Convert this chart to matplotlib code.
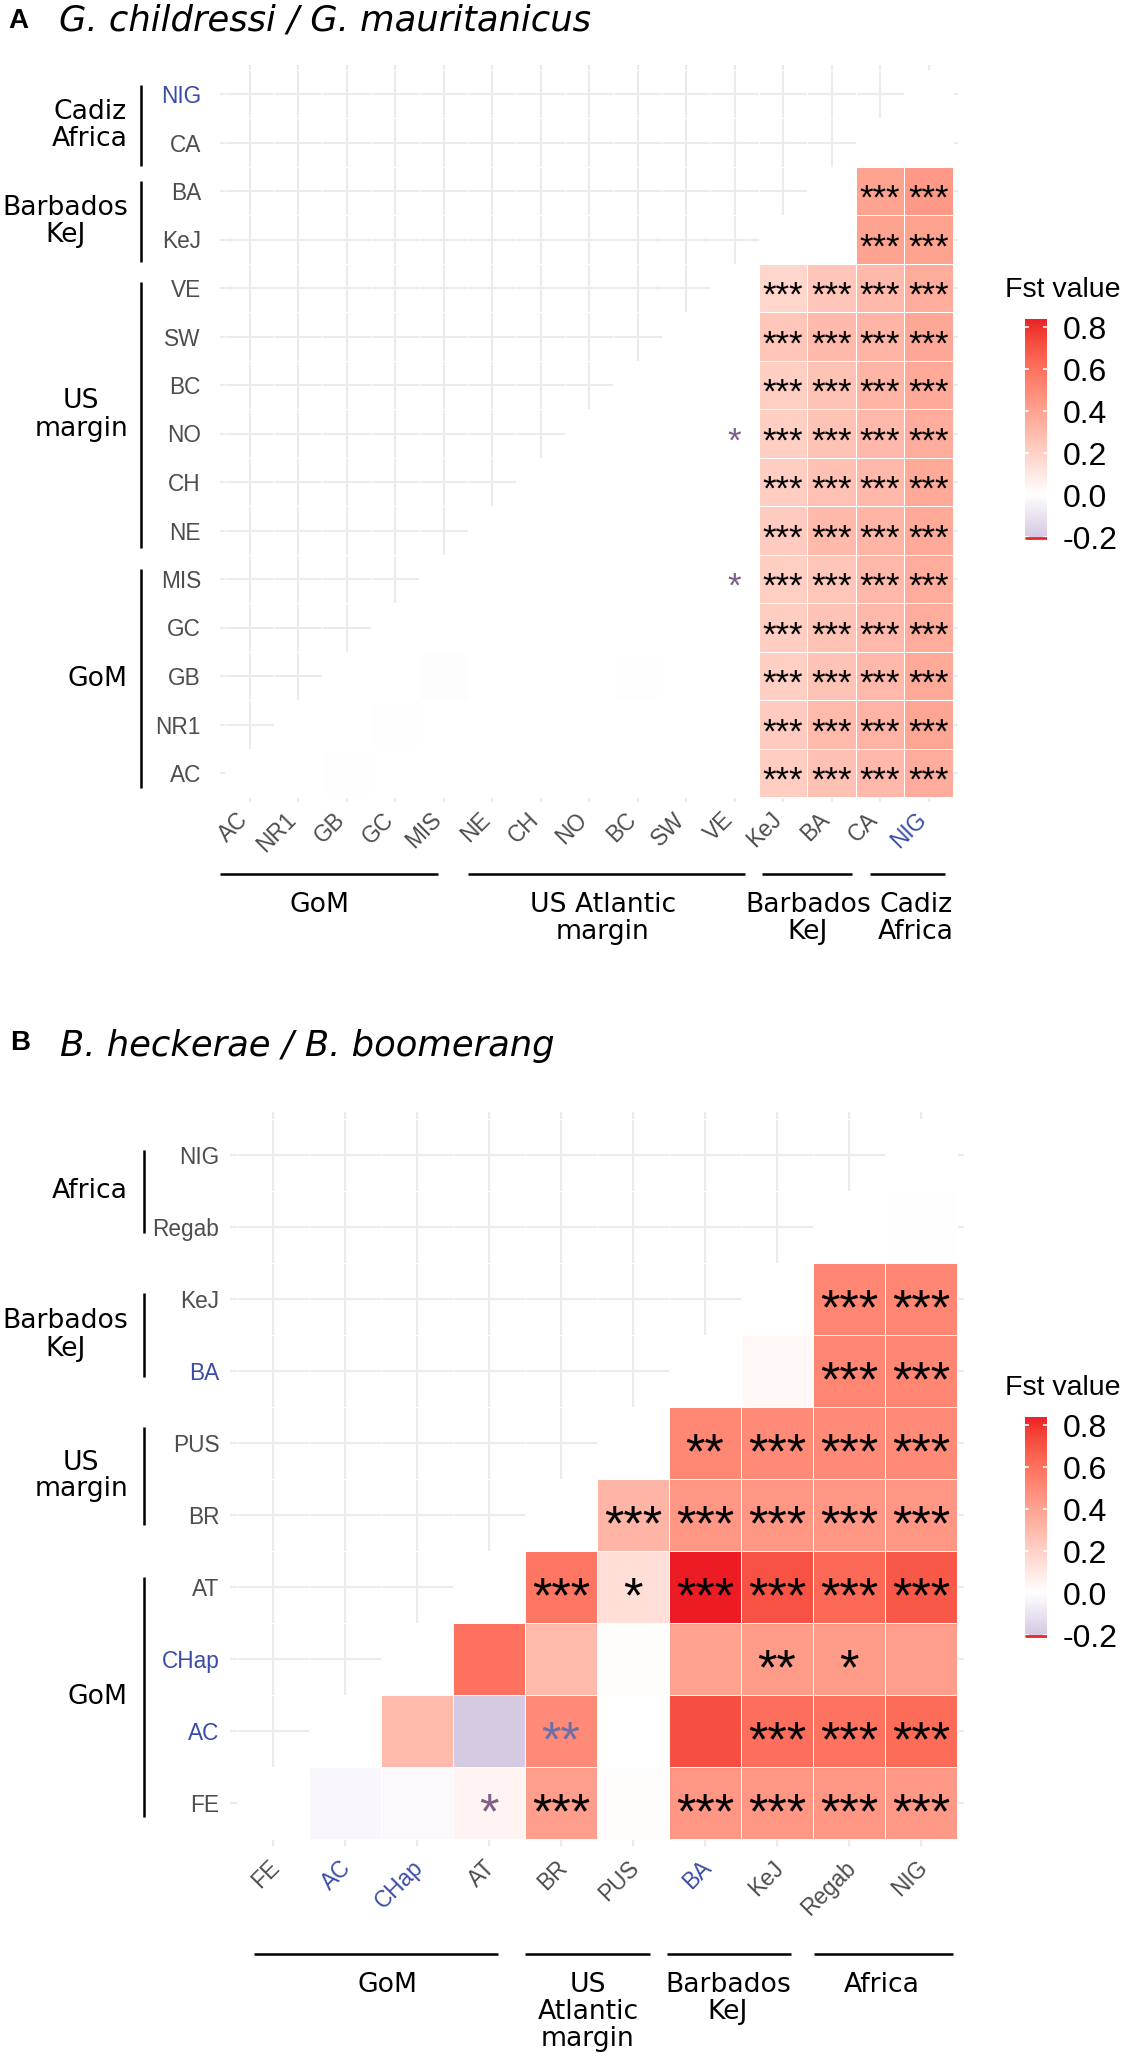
import numpy as np
import matplotlib
matplotlib.use("Agg")
import matplotlib.pyplot as plt
import matplotlib.transforms as mtransforms
from matplotlib.colors import ListedColormap, Normalize

W, H = 1122, 2069

# ---------------- data ----------------
# panel A: G. childressi / G. mauritanicus
pops_a = ["AC", "NR1", "GB", "GC", "MIS", "NE", "CH", "NO", "BC", "SW", "VE", "KeJ", "BA", "CA", "NIG"]
blue_a = ["NIG"]
# row i holds the values for columns i .. end
fst_a = [
    [0, 0, -0.004, 0, 0, 0, 0, 0, 0, 0, 0, 0.22, 0.27, 0.31, 0.36],   # AC
    [0, 0, -0.002, 0, 0, 0.002, 0.002, 0, 0, 0.001, 0.23, 0.30, 0.33, 0.39],  # NR1
    [0, 0, -0.006, 0, 0, 0.001, -0.004, 0, 0, 0.21, 0.26, 0.31, 0.37],  # GB
    [0, 0, 0, 0, 0, 0, 0, 0, 0.22, 0.26, 0.31, 0.36],   # GC
    [0, 0, 0, 0, 0, 0, 0.003, 0.21, 0.25, 0.31, 0.36],  # MIS
    [0, 0, 0, 0, 0, 0, 0.23, 0.30, 0.32, 0.37],         # NE
    [0, 0, 0, 0, 0, 0.22, 0.27, 0.31, 0.37],            # CH
    [0, 0, 0, 0.003, 0.21, 0.26, 0.31, 0.36],           # NO
    [0, 0, 0, 0.21, 0.26, 0.32, 0.37],                  # BC
    [0, 0.002, 0.25, 0.30, 0.32, 0.38],                 # SW
    [0, 0.18, 0.25, 0.30, 0.36],                        # VE
    [0, 0, 0.40, 0.40],                                 # KeJ
    [0, 0.40, 0.44],                                    # BA
    [0, 0],                                             # CA
    [0],                                                # NIG
]
sig_a = [
    "- - - - - - - - - - - *** *** *** ***",
    "- - - - - - - - - - *** *** *** ***",
    "- - - - - - - - - *** *** *** ***",
    "- - - - - - - - *** *** *** ***",
    "- - - - - - * *** *** *** ***",
    "- - - - - - *** *** *** ***",
    "- - - - - *** *** *** ***",
    "- - - * *** *** *** ***",
    "- - - *** *** *** ***",
    "- - *** *** *** ***",
    "- *** *** *** ***",
    "- - *** ***",
    "- *** ***",
    "- -",
    "-",
]
purple_a = [("MIS", "VE"), ("NO", "VE")]

# panel B: B. heckerae / B. boomerang
pops_b = ["FE", "AC", "CHap", "AT", "BR", "PUS", "BA", "KeJ", "Regab", "NIG"]
blue_b = ["AC", "CHap", "BA"]
fst_b = [
    [0, -0.03, -0.02, 0.05, 0.42, 0.01, 0.45, 0.45, 0.45, 0.44],  # FE
    [0, 0.30, -0.20, 0.50, 0.0, 0.72, 0.61, 0.59, 0.62],          # AC
    [0, 0.60, 0.30, 0.01, 0.40, 0.43, 0.43, 0.42],                # CHap
    [0, 0.58, 0.14, 0.84, 0.71, 0.63, 0.69],                      # AT
    [0, 0.32, 0.45, 0.45, 0.45, 0.45],                            # BR
    [0, 0.51, 0.50, 0.50, 0.50],                                  # PUS
    [0, 0.03, 0.52, 0.52],                                        # BA
    [0, 0.52, 0.52],                                              # KeJ
    [0, 0.005],                                                   # Regab
    [0],                                                          # NIG
]
sig_b = [
    "- - - * *** - *** *** *** ***",
    "- - - ** - - *** *** ***",
    "- - - - - ** * -",
    "- *** * *** *** *** ***",
    "- *** *** *** *** ***",
    "- ** *** *** ***",
    "- - *** ***",
    "- *** ***",
    "- -",
    "-",
]
purple_b = [("FE", "AT")]
bluestar_b = [("AC", "BR")]

legend_ticks = [-0.2, 0.0, 0.2, 0.4, 0.6, 0.8]

# ---------------- colours ----------------
M = np.array([[0.4124, 0.3576, 0.1805], [0.2126, 0.7152, 0.0722], [0.0193, 0.1192, 0.9505]])
WHITE_XYZ = np.array([0.95047, 1.0, 1.08883])


def to_lab(rgb):
    c = np.asarray(rgb, float) / 255
    c = np.where(c > 0.04045, ((c + 0.055) / 1.055) ** 2.4, c / 12.92)
    xyz = M @ c / WHITE_XYZ
    f = np.where(xyz > 0.008856, np.cbrt(xyz), 7.787 * xyz + 16 / 116)
    return np.array([116 * f[1] - 16, 500 * (f[0] - f[1]), 200 * (f[1] - f[2])])


def from_lab(lab):
    L, a, b = lab
    f1 = (L + 16) / 116
    f = np.array([f1 + a / 500, f1, f1 - b / 200])
    xyz = np.where(f > 0.2069, f ** 3, (f - 16 / 116) / 7.787) * WHITE_XYZ
    c = np.linalg.inv(M) @ xyz
    c = np.clip(c, 0, None)
    c = np.where(c > 0.0031308, 1.055 * c ** (1 / 2.4) - 0.055, 12.92 * c)
    return np.clip(c, 0, 1)


VMIN, VMAX = -0.21, 0.84
lab_w = to_lab((255, 255, 255))
lab_hi = to_lab((237, 28, 36))
lab_lo = to_lab((214, 202, 227))
cols = []
for v in np.linspace(VMIN, VMAX, 512):
    if v >= 0:
        cols.append(from_lab(lab_w + min(v / VMAX, 1) * (lab_hi - lab_w)))
    else:
        cols.append(from_lab(lab_w + min(v / -0.2, 1) * (lab_lo - lab_w)))
cmap = ListedColormap(cols)
norm = Normalize(VMIN, VMAX)

GREY = "#4D4D4D"
BLUE = "#3B4BA8"
GRID = "#EBEBEB"

fig = plt.figure(figsize=(W / 100, H / 100), dpi=100)


def box(left, top, right, bottom):
    return [left / W, 1 - bottom / H, (right - left) / W, (bottom - top) / H]


def heatmap(rect, pops, fst, sig, blue, purple, bluestar, star_fs, lab_pad, xlab_dx, xlab_dy):
    ax = fig.add_axes(rect)
    n = len(pops)
    Z = np.full((n, n), np.nan)
    S = {}
    for i, row in enumerate(fst):
        toks = sig[i].split()
        for k, v in enumerate(row):
            Z[i, i + k] = v
            if toks[k] != "-":
                S[(i, i + k)] = toks[k]
    edges = np.arange(n + 1) - 0.5
    ax.pcolormesh(edges, edges, np.ma.masked_invalid(Z), cmap=cmap, norm=norm,
                  edgecolors="white", linewidth=0.6)
    ax.set_xlim(-0.6, n - 0.4)
    ax.set_ylim(-0.6, n - 0.4)
    ax.set_xticks(range(n))
    ax.set_yticks(range(n))
    ax.grid(True, color=GRID, linewidth=1.5)
    ax.set_axisbelow(True)
    for s in ax.spines.values():
        s.set_visible(False)
    ax.tick_params(length=0, labelbottom=False, pad=lab_pad)
    ax.set_yticklabels(pops, fontsize=16.3, family="Liberation Sans")
    for lab in ax.get_yticklabels():
        lab.set_color(BLUE if lab.get_text() in blue else GREY)
    xtr = ax.get_xaxis_transform() + mtransforms.ScaledTranslation(
        xlab_dx / 100, -xlab_dy / 100, fig.dpi_scale_trans)
    for j, p in enumerate(pops):
        ax.text(j, 0, p, transform=xtr, rotation=45, ha="right", va="top",
                fontsize=16.3, family="Liberation Sans",
                color=BLUE if p in blue else GREY)
    # asterisks sit high in the font box, shift them down to the cell centre
    str_tr = ax.transData + mtransforms.ScaledTranslation(0, -0.24 * star_fs / 72, fig.dpi_scale_trans)
    for (i, j), s in S.items():
        c = "black"
        if (pops[i], pops[j]) in purple:
            c = "#7E5E86"
        if (pops[i], pops[j]) in bluestar:
            c = "#6F6FA8"
        ax.text(j, i, s, ha="center", va="center", fontsize=star_fs,
                family="Liberation Sans", color=c, transform=str_tr)
    return ax


def legend(left, top_px, right):
    # colorbar from VMIN (bottom) to VMAX (top), 210 px per unit
    bottom_px = top_px + (VMAX - VMIN) * 210
    cax = fig.add_axes(box(left, top_px, right, bottom_px))
    grad = np.linspace(VMIN, VMAX, 400)[:, None]
    cax.imshow(grad, aspect="auto", cmap=cmap, norm=norm, origin="lower",
               extent=[0, 1, VMIN, VMAX])
    cax.hlines(legend_ticks, 0, 0.2, color="white", linewidth=1.2)
    cax.hlines(legend_ticks, 0.8, 1, color="white", linewidth=1.2)
    cax.hlines([VMIN + 0.006, VMAX - 0.006], 0, 1, color="#E8262B", linewidth=2)
    cax.set_xlim(0, 1)
    cax.set_ylim(VMIN, VMAX)
    cax.set_xticks([])
    cax.yaxis.tick_right()
    cax.set_yticks(legend_ticks)
    cax.set_yticklabels([f"{t:.1f}" for t in legend_ticks], fontsize=23,
                        family="Liberation Sans")
    cax.tick_params(length=0, pad=11)
    for s in cax.spines.values():
        s.set_visible(False)
    fig.text((left - 20) / W, 1 - (top_px - 29) / H, "Fst value", fontsize=20.5,
             family="Liberation Sans", ha="left", va="center")


# panel A heatmap: cell 48.5 px, first column centre x=249.5, top row centre y=94
ax_a = heatmap(box(220.4, 64.9, 957.6, 802.1), pops_a, fst_a, sig_a, blue_a, purple_a, [],
               25, 14, 3, 6)
# panel B heatmap: cell 72 px, first column centre x=273, top row centre y=1155
ax_b = heatmap(box(229.8, 1111.8, 964.2, 1846.2), pops_b, fst_b, sig_b, blue_b, purple_b,
               bluestar_b, 36, 7.5, 11, 10)

legend(1025, 319, 1047)
legend(1025, 1417, 1047)

# overlay in pixel coordinates for titles and group annotations
ov = fig.add_axes([0, 0, 1, 1])
ov.set_xlim(0, W)
ov.set_ylim(H, 0)
ov.axis("off")

ov.text(8, 28, "A", fontsize=20, fontweight="bold", family="Liberation Sans", va="baseline")
ov.text(59, 30, "G. childressi / G. mauritanicus", fontsize=25.5, style="italic",
        family="DejaVu Sans", va="baseline")
ov.text(10, 1050, "B", fontsize=20, fontweight="bold", family="Liberation Sans", va="baseline")
ov.text(60, 1056, "B. heckerae / B. boomerang", fontsize=25.5, style="italic",
        family="DejaVu Sans", va="baseline")

GRP_FS = 19.2
# left-side groups: (label, y top, y bottom) in pixels
left_a = [("Cadiz\nAfrica", 85, 166), ("Barbados\nKeJ", 181, 262),
          ("US\nmargin", 282, 548), ("GoM", 569, 788)]
left_b = [("Africa", 1150, 1233), ("Barbados\nKeJ", 1293, 1377),
          ("US\nmargin", 1427, 1525), ("GoM", 1577, 1817)]
for groups, xl in [(left_a, 141), (left_b, 144)]:
    for lab, y0, y1 in groups:
        ov.plot([xl, xl], [y0, y1], color="black", linewidth=1.8, solid_capstyle="butt")
        ov.text(128, (y0 + y1) / 2, lab, ha="right", va="center", multialignment="center",
                fontsize=GRP_FS, family="DejaVu Sans", linespacing=1.05)

# bottom groups: (label, x start, x end, label centre x)
bottom_a = [("GoM", 220, 438, 320), ("US Atlantic\nmargin", 468, 745, 603),
            ("Barbados\nKeJ", 762, 852, 808), ("Cadiz\nAfrica", 870, 945, 916)]
bottom_b = [("GoM", 254, 498, 388), ("US\nAtlantic\nmargin", 525, 650, 588),
            ("Barbados\nKeJ", 667, 791, 728), ("Africa", 814, 953, 882)]
for groups, yl in [(bottom_a, 874), (bottom_b, 1954)]:
    for lab, x0, x1, xc in groups:
        ov.plot([x0, x1], [yl, yl], color="black", linewidth=1.8, solid_capstyle="butt")
        ov.text(xc, yl + 18, lab, ha="center", va="top", multialignment="center",
                fontsize=GRP_FS, family="DejaVu Sans", linespacing=1.05)

fig.savefig("out.png", dpi=100)
